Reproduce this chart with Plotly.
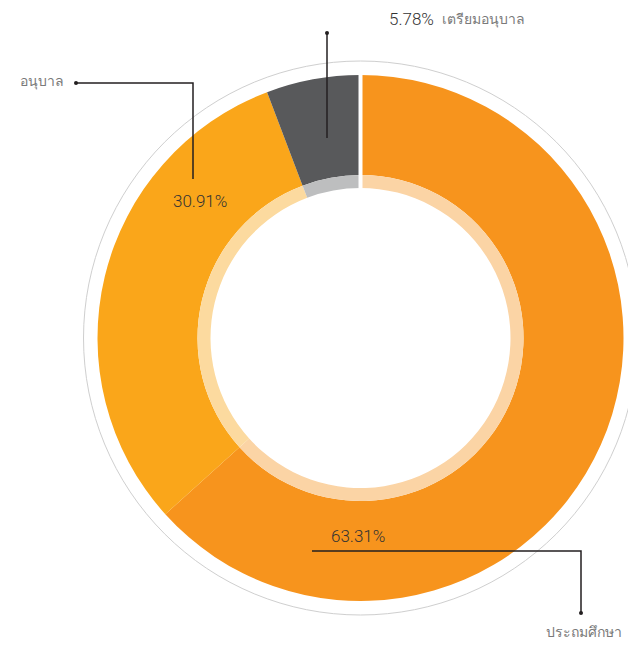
import plotly.graph_objects as go

# Share of students by education level
levels = ["ประถมศึกษา", "อนุบาล", "เตรียมอนุบาล"]
shares = [63.31, 30.91, 5.78]
pct_labels = ["63.31%", "30.91%", "5.78%"]

ring_colors = ["#F7941D", "#FAA61A", "#58595B"]
band_colors = ["#FBD4A5", "#FCDA9F", "#BDBEBF"]

W, H = 628, 645
CX, CY = 360.5, 338          # donut centre in pixels (from top-left)
R_OUT, R_MID, R_IN = 263, 163, 150
R_GUIDE = 277


def dom(r):
    return dict(x=[(CX - r) / W, (CX + r) / W],
                y=[1 - (CY + r) / H, 1 - (CY - r) / H])


fig = go.Figure()

# main ring
fig.add_trace(go.Pie(
    labels=levels, values=shares, sort=False, direction="clockwise", rotation=0,
    hole=R_MID / R_OUT, domain=dom(R_OUT),
    marker=dict(colors=ring_colors, line=dict(width=0)),
    textinfo="none", hoverinfo="label+percent", showlegend=False,
))
# pale inner band
fig.add_trace(go.Pie(
    labels=levels, values=shares, sort=False, direction="clockwise", rotation=0,
    hole=R_IN / R_MID, domain=dom(R_MID),
    marker=dict(colors=band_colors, line=dict(width=0)),
    textinfo="none", hoverinfo="skip", showlegend=False,
))

shapes = [
    # thin guide circle around the donut
    dict(type="circle", xref="x", yref="y",
         x0=CX - R_GUIDE, x1=CX + R_GUIDE, y0=CY - R_GUIDE, y1=CY + R_GUIDE,
         line=dict(color="#CFCFCF", width=1), layer="below"),
    # white separator at 12 o'clock
    dict(type="line", xref="x", yref="y", x0=CX, x1=CX, y0=72, y1=190,
         line=dict(color="white", width=4), layer="above"),
]

# leader lines (drawn above the pies) with a dot at the label end
leaders = [
    ([327, 327], [33, 138]),
    ([76, 193, 193], [83, 83, 179]),
    ([312, 581, 581], [551, 551, 613]),
]
dots = [(327, 33), (76, 83), (581, 613)]
for xs, ys in leaders:
    path = "M " + " L ".join(f"{x},{y}" for x, y in zip(xs, ys))
    shapes.append(dict(type="path", xref="x", yref="y", path=path,
                       line=dict(color="#231F20", width=1.5), layer="above"))
for x, y in dots:
    shapes.append(dict(type="circle", xref="x", yref="y",
                       x0=x - 2, x1=x + 2, y0=y - 2, y1=y + 2,
                       fillcolor="#231F20", line=dict(width=0), layer="above"))

num_font = dict(family="Roboto, 'Noto Sans', sans-serif", size=17, color="#333333", weight=300)
name_font = dict(family="Roboto, 'Noto Sans', sans-serif", size=14, color="#7A7A7A", weight=300)

annotations = [
    dict(x=387, y=19, text=pct_labels[2], font=num_font, xanchor="left", yanchor="middle"),
    dict(x=440, y=19, text=levels[2], font=name_font, xanchor="left", yanchor="middle"),
    dict(x=66, y=81, text=levels[1], font=name_font, xanchor="right", yanchor="middle"),
    dict(x=171, y=201, text=pct_labels[1], font=num_font, xanchor="left", yanchor="middle"),
    dict(x=329, y=536, text=pct_labels[0], font=num_font, xanchor="left", yanchor="middle"),
    dict(x=624, y=632, text=levels[0], font=name_font, xanchor="right", yanchor="middle"),
]
for a in annotations:
    a.update(xref="x", yref="y", showarrow=False)

fig.update_layout(
    width=W, height=H, margin=dict(l=0, r=0, t=0, b=0),
    paper_bgcolor="white", plot_bgcolor="rgba(0,0,0,0)",
    xaxis=dict(range=[0, W], visible=False, fixedrange=True),
    yaxis=dict(range=[H, 0], visible=False, fixedrange=True),
    shapes=shapes, annotations=annotations,
)

fig.write_html("out.html")
